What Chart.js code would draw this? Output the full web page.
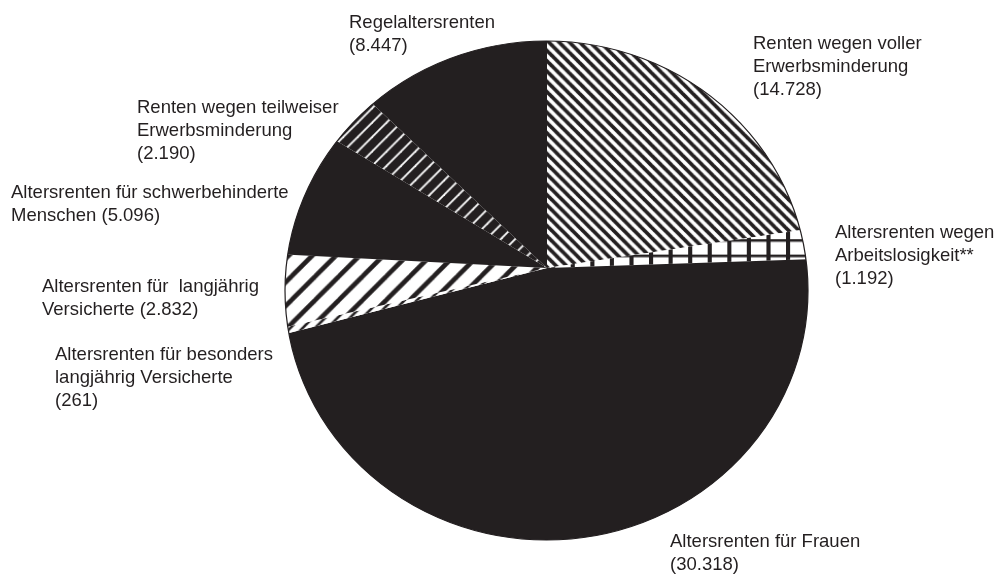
<!DOCTYPE html>
<html>
<head>
<meta charset="utf-8">
<script src="https://cdn.jsdelivr.net/npm/chart.js@4"></script>
<style>
  html, body { margin: 0; padding: 0; background: #ffffff; }
  #wrap { width: 997px; height: 574px; position: relative; }
</style>
</head>
<body>
<div id="wrap"><canvas id="c" width="997" height="574"></canvas></div>
<script>
// ---- data (clockwise from 12 o'clock) ----
const categories = [
  'Renten wegen voller Erwerbsminderung',
  'Altersrenten wegen Arbeitslosigkeit**',
  'Altersrenten für Frauen',
  'Altersrenten für besonders langjährig Versicherte',
  'Altersrenten für  langjährig Versicherte',
  'Altersrenten für schwerbehinderte Menschen',
  'Renten wegen teilweiser Erwerbsminderung',
  'Regelaltersrenten'
];
const values = [14728, 1192, 30318, 261, 2832, 5096, 2190, 8447];
// label text lines; {v} is replaced by the formatted value
const labelLines = [
  ['Renten wegen voller', 'Erwerbsminderung', '({v})'],
  ['Altersrenten wegen', 'Arbeitslosigkeit**', '({v})'],
  ['Altersrenten für Frauen', '({v})'],
  ['Altersrenten für besonders', 'langjährig Versicherte', '({v})'],
  ['Altersrenten für  langjährig', 'Versicherte ({v})'],
  ['Altersrenten für schwerbehinderte', 'Menschen ({v})'],
  ['Renten wegen teilweiser', 'Erwerbsminderung', '({v})'],
  ['Regelaltersrenten', '({v})']
];

// ---- layout / style (kept separate from data) ----
const labelPos = [
  [753, 49], [835, 238], [670, 547], [55, 360],
  [42, 292], [11, 198], [137, 113], [349, 28]
];
const INK = '#231f20';
const LINE_H = 23;

function fmt(n) {
  return String(n).replace(/\B(?=(\d{3})+(?!\d))/g, '.');
}

function stripes(size, bg, fg, lw, dir) {
  const c = document.createElement('canvas');
  c.width = size; c.height = size;
  const g = c.getContext('2d');
  g.fillStyle = bg; g.fillRect(0, 0, size, size);
  g.strokeStyle = fg; g.lineWidth = lw; g.lineCap = 'square';
  for (let k = -1; k <= 1; k++) {
    g.beginPath();
    if (dir === '\\') { g.moveTo(k * size, 0); g.lineTo(k * size + size, size); }
    else { g.moveTo(k * size, size); g.lineTo(k * size + size, 0); }
    g.stroke();
  }
  return g.createPattern(c, 'repeat');
}
function grid(w, h, bg, fg, vw, hw) {
  const c = document.createElement('canvas');
  c.width = w; c.height = h;
  const g = c.getContext('2d');
  g.fillStyle = bg; g.fillRect(0, 0, w, h);
  g.fillStyle = fg;
  g.fillRect(0, 0, vw, h);
  g.fillRect(0, 0, w, hw);
  return g.createPattern(c, 'repeat');
}

const fills = [
  stripes(10, '#ffffff', INK, 3.6, '\\'),
  grid(19, 15, '#ffffff', INK, 4, 2.5),
  INK,
  stripes(12, '#ffffff', INK, 2.5, '/'),
  stripes(23, '#ffffff', INK, 4.5, '/'),
  INK,
  stripes(14, INK, '#ffffff', 1.8, '/'),
  INK
];

// pie is drawn around the wedge apex, slightly enlarged, and clipped to the scanned ellipse outline
const outline = { dx: -0.5 / 268, dy: 22.5 / 268, rx: 261.5 / 268, ry: 249.5 / 268, grow: 1.03 };

const shapePlugin = {
  id: 'shape',
  beforeDatasetsDraw(chart) {
    const a = chart.getDatasetMeta(0).data[0];
    const ctx = chart.ctx, cx = a.x, cy = a.y, r = a.outerRadius;
    ctx.save();
    ctx.beginPath();
    ctx.ellipse(cx + outline.dx * r, cy + outline.dy * r, outline.rx * r, outline.ry * r, 0, 0, Math.PI * 2);
    ctx.clip();
    ctx.translate(cx, cy);
    ctx.scale(outline.grow, outline.grow);
    ctx.translate(-cx, -cy);
  },
  afterDatasetsDraw(chart) {
    const a = chart.getDatasetMeta(0).data[0];
    const ctx = chart.ctx, cx = a.x, cy = a.y, r = a.outerRadius;
    ctx.restore();
    ctx.save();
    ctx.beginPath();
    ctx.ellipse(cx + outline.dx * r, cy + outline.dy * r, outline.rx * r, outline.ry * r, 0, 0, Math.PI * 2);
    ctx.strokeStyle = INK; ctx.lineWidth = 1.2;
    ctx.stroke();
    ctx.restore();
  },
  afterDraw(chart) {
    const ctx = chart.ctx;
    ctx.save();
    ctx.fillStyle = INK;
    ctx.font = '18.5px "Liberation Sans", Arial, Helvetica, sans-serif';
    ctx.textBaseline = 'alphabetic';
    ctx.textAlign = 'left';
    labelLines.forEach((lines, i) => {
      const [x, y] = labelPos[i];
      lines.forEach((t, j) => {
        ctx.fillText(t.replace('{v}', fmt(values[i])), x, y + j * LINE_H);
      });
    });
    ctx.restore();
  }
};

new Chart(document.getElementById('c'), {
  type: 'pie',
  data: {
    labels: categories,
    datasets: [{
      data: values,
      backgroundColor: fills,
      borderWidth: 0
    }]
  },
  options: {
    responsive: false,
    animation: false,
    events: [],
    layout: { padding: { top: 0, bottom: 38, left: 97, right: 0 } },
    plugins: { legend: { display: false }, tooltip: { enabled: false } }
  },
  plugins: [shapePlugin]
});
</script>
</body>
</html>
